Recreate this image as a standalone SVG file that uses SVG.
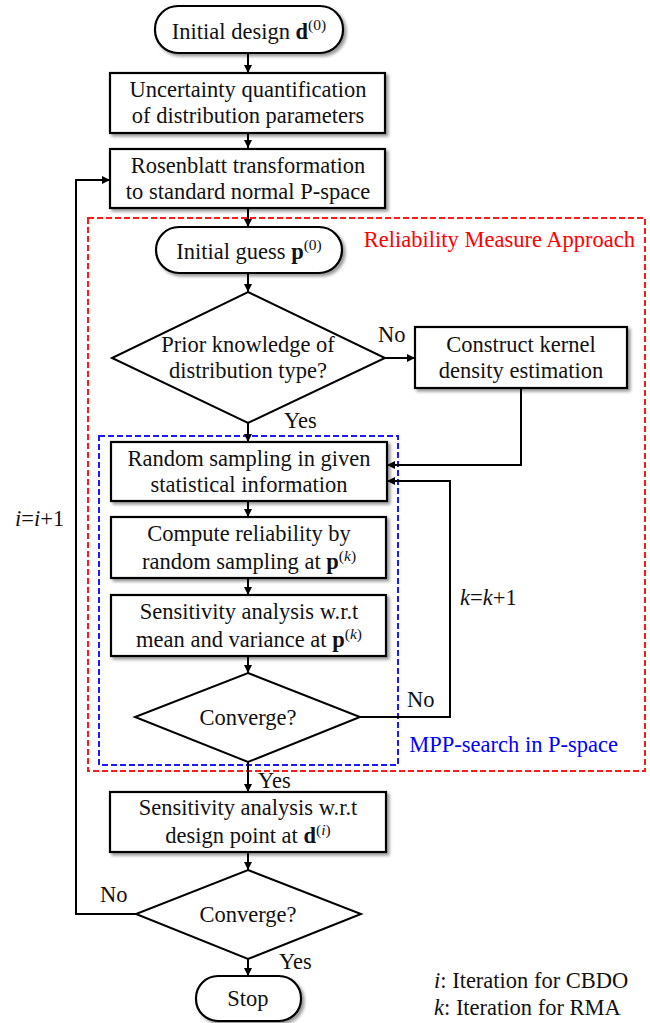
<svg xmlns="http://www.w3.org/2000/svg" width="650" height="1023" viewBox="0 0 650 1023">
<defs>
<filter id="sh" x="-10%" y="-10%" width="125%" height="130%">
<feDropShadow dx="2.5" dy="2.5" stdDeviation="1.5" flood-color="#000" flood-opacity="0.4"/>
</filter>
<marker id="ar" viewBox="0 0 10 10" refX="10" refY="5" markerWidth="9" markerHeight="8" markerUnits="userSpaceOnUse" orient="auto">
<path d="M0,0 L10,5 L0,10 z" fill="#000"/>
</marker>
</defs>
<style>
text{font-family:"Liberation Serif","Times New Roman",serif;font-size:22.5px;fill:#111}
.c{text-anchor:middle}
.box{fill:#fff;stroke:#000;stroke-width:2.2;filter:url(#sh)}
.dia{fill:#fff;stroke:#000;stroke-width:2}
.ln{fill:none;stroke:#000;stroke-width:2}
.b{font-weight:bold}
.it{font-style:italic}
.sup{font-size:15.5px}
</style>
<rect width="650" height="1023" fill="#fff"/>

<g id="groups">
<rect x="88" y="218" width="557" height="553" fill="none" stroke="#ff1a1a" stroke-width="2" stroke-dasharray="6,3"/>
<rect x="99" y="436" width="299" height="329" fill="none" stroke="#1a1aff" stroke-width="2" stroke-dasharray="6,3"/>
<text x="635" y="247" text-anchor="end" style="fill:#ff0000">Reliability Measure Approach</text>
<text x="618" y="752" text-anchor="end" style="fill:#0000ff">MPP-search in P-space</text>
</g>

<g id="connectors">
<path class="ln" d="M248,53 V73" marker-end="url(#ar)"/>
<path class="ln" d="M248,133 V148" marker-end="url(#ar)"/>
<path class="ln" d="M248,208 V227" marker-end="url(#ar)"/>
<path class="ln" d="M248,273 V292" marker-end="url(#ar)"/>
<path class="ln" d="M385,358 H415" marker-end="url(#ar)"/>
<path class="ln" d="M248,423 V442" marker-end="url(#ar)"/>
<path class="ln" d="M521,388 V465 H387" marker-end="url(#ar)"/>
<path class="ln" d="M248,501 V517" marker-end="url(#ar)"/>
<path class="ln" d="M248,578 V595" marker-end="url(#ar)"/>
<path class="ln" d="M248,656 V673" marker-end="url(#ar)"/>
<path class="ln" d="M360,717 H450 V481 H387" marker-end="url(#ar)"/>
<path class="ln" d="M248,762 V792" marker-end="url(#ar)"/>
<path class="ln" d="M248,852 V870" marker-end="url(#ar)"/>
<path class="ln" d="M248,959 V976" marker-end="url(#ar)"/>
<path class="ln" d="M136,914 H76 V180 H110" marker-end="url(#ar)"/>
<text x="378" y="342">No</text>
<text x="284" y="428">Yes</text>
<text x="407" y="707">No</text>
<text x="460" y="605"><tspan class="it">k</tspan>=<tspan class="it">k</tspan>+1</text>
<text x="258" y="788">Yes</text>
<text x="100" y="902">No</text>
<text x="279" y="969">Yes</text>
<text x="15" y="526"><tspan class="it">i</tspan>=<tspan class="it">i</tspan>+1</text>
</g>

<g id="n-start">
<rect class="box" x="155" y="6" width="188" height="47" rx="23"/>
<text class="c" x="249" y="39">Initial design <tspan class="b">d</tspan><tspan class="sup" dy="-9">(0)</tspan></text>
</g>
<g id="n-uq">
<rect class="box" x="110" y="73" width="275" height="60"/>
<text class="c" x="248" y="97">Uncertainty quantification</text>
<text class="c" x="248" y="123">of distribution parameters</text>
</g>
<g id="n-rosen">
<rect class="box" x="110" y="149" width="275" height="59"/>
<text class="c" x="248" y="173">Rosenblatt transformation</text>
<text class="c" x="248" y="199">to standard normal P-space</text>
</g>
<g id="n-guess">
<rect class="box" x="156" y="227" width="186" height="46" rx="23"/>
<text class="c" x="249" y="259">Initial guess <tspan class="b">p</tspan><tspan class="sup" dy="-9">(0)</tspan></text>
</g>
<g id="n-prior">
<polygon class="dia" points="248,292 385,358 248,423 112,358"/>
<text class="c" x="248" y="352">Prior knowledge of</text>
<text class="c" x="248" y="378">distribution type?</text>
</g>
<g id="n-kernel">
<rect class="box" x="415" y="327" width="212" height="61"/>
<text class="c" x="521" y="352">Construct kernel</text>
<text class="c" x="521" y="378">density estimation</text>
</g>
<g id="n-random">
<rect class="box" x="111" y="442" width="276" height="59"/>
<text class="c" x="249" y="466">Random sampling in given</text>
<text class="c" x="249" y="492">statistical information</text>
</g>
<g id="n-compute">
<rect class="box" x="111" y="517" width="275" height="61"/>
<text class="c" x="249" y="541">Compute reliability by</text>
<text class="c" x="249" y="569">random sampling at <tspan class="b">p</tspan><tspan class="sup" dy="-8">(<tspan class="it">k</tspan>)</tspan></text>
</g>
<g id="n-sens1">
<rect class="box" x="111" y="595" width="275" height="61"/>
<text class="c" x="249" y="619">Sensitivity analysis w.r.t</text>
<text class="c" x="249" y="647">mean and variance at <tspan class="b">p</tspan><tspan class="sup" dy="-8">(<tspan class="it">k</tspan>)</tspan></text>
</g>
<g id="n-conv1">
<polygon class="dia" points="248,673 360,717 248,762 135,717"/>
<text class="c" x="248" y="725">Converge?</text>
</g>
<g id="n-sens2">
<rect class="box" x="110" y="792" width="276" height="60"/>
<text class="c" x="248" y="815">Sensitivity analysis w.r.t</text>
<text class="c" x="248" y="843">design point at <tspan class="b">d</tspan><tspan class="sup" dy="-8">(<tspan class="it">i</tspan>)</tspan></text>
</g>
<g id="n-conv2">
<polygon class="dia" points="248,870 361,914 248,959 136,914"/>
<text class="c" x="248" y="922">Converge?</text>
</g>
<g id="n-stop">
<rect class="box" x="196" y="976" width="105" height="45" rx="22"/>
<text class="c" x="248" y="1006">Stop</text>
</g>

<g id="legend">
<text x="434" y="988"><tspan class="it">i</tspan>: Iteration for CBDO</text>
<text x="434" y="1015"><tspan class="it">k</tspan>: Iteration for RMA</text>
</g>
</svg>
